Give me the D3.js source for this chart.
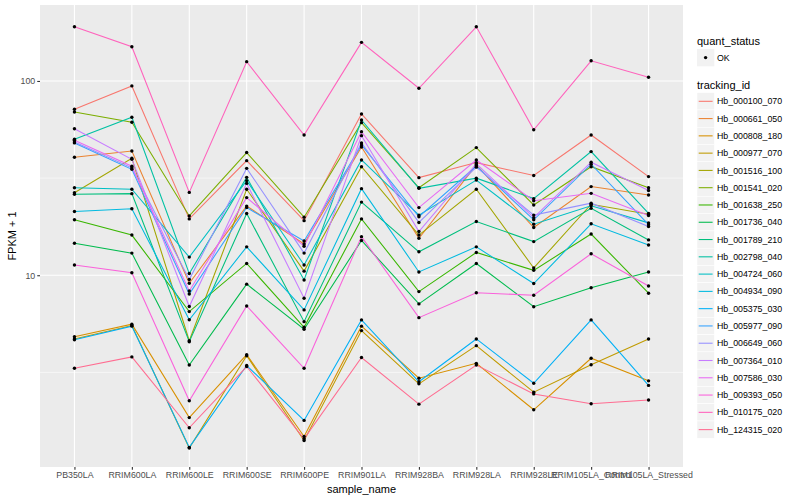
<!DOCTYPE html>
<html><head><meta charset="utf-8">
<script src="https://cdn.jsdelivr.net/npm/d3@7"></script>
<style>
body{margin:0;background:#fff}
svg{display:block}
text{font-family:"Liberation Sans",Arial,Helvetica,sans-serif}
</style>
</head><body>
<svg id="chart" width="800" height="500"></svg>
<script>
// ---------- data ----------
const samples = ["PB350LA","RRIM600LA","RRIM600LE","RRIM600SE","RRIM600PE","RRIM901LA","RRIM928BA","RRIM928LA","RRIM928LE","RRIM105LA_Control","RRIM105LA_Stressed"];
const trackingIds = ["Hb_000100_070","Hb_000661_050","Hb_000808_180","Hb_000977_070","Hb_001516_100","Hb_001541_020","Hb_001638_250","Hb_001736_040","Hb_001789_210","Hb_002798_040","Hb_004724_060","Hb_004934_090","Hb_005375_030","Hb_005977_090","Hb_006649_060","Hb_007364_010","Hb_007586_030","Hb_009393_050","Hb_010175_020","Hb_124315_020"];
const seriesColors = ["#F8766D","#EA8331","#D89000","#C09B00","#A3A500","#7CAE00","#39B600","#00BB4E","#00BF7D","#00C1A3","#00BFC4","#00BAE0","#00B0F6","#35A2FF","#9590FF","#C77CFF","#E76BF3","#FA62DB","#FF62BC","#FF6C91"];

// FPKM + 1 per sample, one array per tracking_id
const Hb_000100_070 = [71.5, 94.3, 19.5, 38.9, 19.1, 67.6, 31.8, 38.0, 32.6, 52.7, 32.2];
const Hb_000661_050 = [40.5, 43.6, 9.1, 22.7, 14.5, 45.7, 15.5, 37.0, 17.6, 28.6, 25.9];
const Hb_000808_180 = [4.83, 5.60, 1.85, 3.90, 1.48, 5.47, 2.95, 3.52, 2.03, 3.74, 2.86];
const Hb_000977_070 = [4.70, 5.51, 1.29, 3.85, 1.41, 5.19, 2.76, 4.34, 2.50, 3.46, 4.70];
const Hb_001516_100 = [26.6, 40.0, 4.6, 27.7, 10.5, 36.2, 16.1, 27.7, 10.9, 23.2, 20.6];
const Hb_001541_020 = [69.2, 61.3, 20.2, 42.8, 19.9, 61.0, 28.2, 45.4, 23.0, 36.2, 28.2];
const Hb_001638_250 = [19.3, 16.1, 6.5, 11.5, 5.40, 19.5, 8.24, 13.1, 10.6, 16.3, 8.08];
const Hb_001736_040 = [14.6, 13.0, 3.45, 9.0, 5.27, 15.1, 7.12, 11.5, 6.89, 8.63, 10.4];
const Hb_001789_210 = [26.1, 26.3, 4.55, 20.8, 5.77, 23.8, 13.2, 18.9, 14.9, 22.1, 15.2];
const Hb_002798_040 = [50.1, 65.0, 10.2, 31.9, 9.46, 63.0, 28.0, 31.6, 24.8, 43.3, 20.8];
const Hb_004724_060 = [28.2, 27.7, 12.4, 30.7, 11.3, 39.2, 20.4, 30.9, 18.3, 22.8, 18.6];
const Hb_004934_090 = [21.3, 22.0, 5.9, 14.0, 6.63, 27.9, 10.4, 14.0, 9.06, 18.4, 14.3];
const Hb_005375_030 = [4.65, 5.47, 1.30, 3.43, 1.79, 5.89, 2.83, 4.70, 2.78, 5.89, 2.71];
const Hb_005977_090 = [48.0, 35.1, 8.0, 22.3, 15.0, 46.8, 20.0, 36.5, 19.3, 37.3, 18.2];
const Hb_006649_060 = [48.5, 35.7, 9.5, 35.5, 13.0, 48.0, 18.7, 36.0, 20.4, 23.5, 17.8];
const Hb_007364_010 = [56.8, 39.5, 6.9, 29.7, 7.62, 52.3, 16.8, 37.5, 19.8, 38.2, 27.3];
const Hb_007586_030 = [49.5, 36.4, 8.3, 25.1, 14.1, 54.8, 22.3, 39.2, 24.2, 26.4, 20.3];
const Hb_009393_050 = [11.3, 10.3, 2.26, 6.95, 3.32, 15.8, 6.05, 8.13, 7.89, 12.9, 8.81];
const Hb_010175_020 = [190, 150, 26.7, 125.7, 52.7, 158, 91.7, 190, 56.1, 127, 104.5];
const Hb_124315_020 = [3.32, 3.80, 1.64, 3.39, 1.44, 3.77, 2.17, 3.45, 2.45, 2.18, 2.28];

const seriesValues = [Hb_000100_070,Hb_000661_050,Hb_000808_180,Hb_000977_070,Hb_001516_100,Hb_001541_020,Hb_001638_250,Hb_001736_040,Hb_001789_210,Hb_002798_040,Hb_004724_060,Hb_004934_090,Hb_005375_030,Hb_005977_090,Hb_006649_060,Hb_007364_010,Hb_007586_030,Hb_009393_050,Hb_010175_020,Hb_124315_020];

const yTicks = [10, 100];
const yMinor = [Math.pow(10,0.5), Math.pow(10,1.5)];
const quantStatus = ["OK"];

// ---------- layout ----------
const svg = d3.select("#chart");
const P = {left: 40, right: 683, top: 5, bottom: 467};

const x = d3.scalePoint().domain(samples).range([P.left, P.right]).padding(0.6);
const y = d3.scaleLog().domain([Math.pow(10,0.013), Math.pow(10,2.391)]).range([P.bottom, P.top]);

// panel
svg.append("rect").attr("x",P.left).attr("y",P.top).attr("width",P.right-P.left).attr("height",P.bottom-P.top).attr("fill","#EBEBEB");

const grid = svg.append("g");
yMinor.forEach(v => grid.append("line").attr("x1",P.left).attr("x2",P.right).attr("y1",y(v)).attr("y2",y(v)).attr("stroke","#fff").attr("stroke-width",0.55));
yTicks.forEach(v => grid.append("line").attr("x1",P.left).attr("x2",P.right).attr("y1",y(v)).attr("y2",y(v)).attr("stroke","#fff").attr("stroke-width",1.1));
samples.forEach(s => grid.append("line").attr("x1",x(s)).attr("x2",x(s)).attr("y1",P.top).attr("y2",P.bottom).attr("stroke","#fff").attr("stroke-width",1.1));

// axes
const yAxis = d3.axisLeft(y).tickValues(yTicks).tickFormat(d3.format("d")).tickSize(2.75).tickPadding(2);
const gy = svg.append("g").attr("transform",`translate(${P.left},0)`).call(yAxis);
gy.select(".domain").remove();
gy.selectAll(".tick line").attr("stroke","#333").attr("stroke-width",1.1);
gy.selectAll(".tick text").attr("fill","#4D4D4D").style("font-size","8.8px");

const xAxis = d3.axisBottom(x).tickSize(2.75).tickPadding(2.5);
const gx = svg.append("g").attr("transform",`translate(0,${P.bottom})`).call(xAxis);
gx.select(".domain").remove();
gx.selectAll(".tick line").attr("stroke","#333").attr("stroke-width",1.1);
gx.selectAll(".tick text").attr("fill","#4D4D4D").style("font-size","8.8px");

svg.append("text").attr("x",(P.left+P.right)/2).attr("y",493).attr("text-anchor","middle").style("font-size","11px").attr("fill","#000").text("sample_name");
svg.append("text").attr("transform",`translate(16,${(P.top+P.bottom)/2}) rotate(-90)`).attr("text-anchor","middle").style("font-size","11px").attr("fill","#000").text("FPKM + 1");

// lines
const line = d3.line().x((d,i)=>x(samples[i])).y(d=>y(d));
const plot = svg.append("g");
seriesValues.forEach((vals,k) => {
  plot.append("path").datum(vals).attr("d",line).attr("fill","none").attr("stroke",seriesColors[k]).attr("stroke-width",1.07);
});
seriesValues.forEach((vals,k) => {
  plot.selectAll(null).data(vals).enter().append("circle")
    .attr("cx",(d,i)=>x(samples[i])).attr("cy",d=>y(d)).attr("r",1.7).attr("fill","#000");
});

// legend
const L = svg.append("g");
L.append("text").attr("x",697).attr("y",45).style("font-size","11px").attr("fill","#000").text("quant_status");
quantStatus.forEach((q,i)=>{
  L.append("rect").attr("x",697).attr("y",49).attr("width",17.3).attr("height",17.3).attr("fill","#F2F2F2");
  L.append("circle").attr("cx",705.6).attr("cy",57.6).attr("r",1.7).attr("fill","#000");
  L.append("text").attr("x",717).attr("y",60.8).style("font-size","8.8px").attr("fill","#000").text(q);
});
L.append("text").attr("x",697).attr("y",88.5).style("font-size","11px").attr("fill","#000").text("tracking_id");
trackingIds.forEach((t,i)=>{
  const cy = 101.3 + i*17.28;
  L.append("rect").attr("x",697).attr("y",cy-8.64).attr("width",17.3).attr("height",17.28).attr("fill","#F2F2F2").attr("stroke","#fff").attr("stroke-width",0.5);
  L.append("line").attr("x1",698.7).attr("x2",712.6).attr("y1",cy).attr("y2",cy).attr("stroke",seriesColors[i]).attr("stroke-width",1.07);
  L.append("text").attr("x",717).attr("y",cy+3.1).style("font-size","8.8px").attr("fill","#000").text(t);
});
</script>
</body></html>
